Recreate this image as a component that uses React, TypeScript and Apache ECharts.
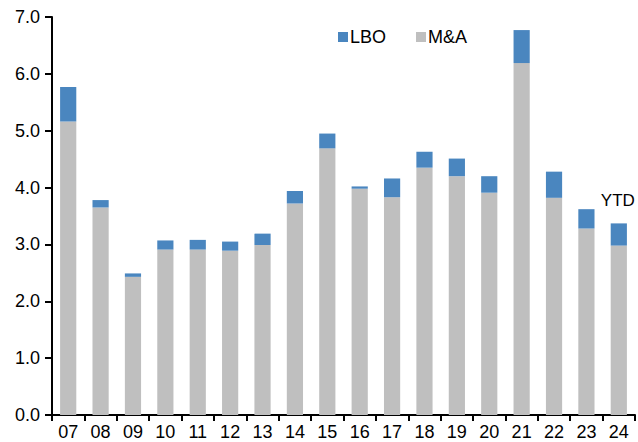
import React, { useEffect, useRef } from "react";
import * as echarts from "echarts";

const categories = ["07", "08", "09", "10", "11", "12", "13", "14", "15", "16", "17", "18", "19", "20", "21", "22", "23", "24"];
const maValues = [5.16, 3.65, 2.43, 2.91, 2.91, 2.89, 2.99, 3.72, 4.69, 3.98, 3.83, 4.35, 4.2, 3.91, 6.19, 3.82, 3.28, 2.98];
const lboValues = [0.61, 0.13, 0.06, 0.16, 0.17, 0.16, 0.2, 0.22, 0.26, 0.04, 0.33, 0.28, 0.31, 0.29, 0.58, 0.46, 0.34, 0.39];
const yTicks = { min: 0, max: 7, interval: 1 };
const annotation = "YTD";

const FONT = '"Liberation Sans", Arial, sans-serif';

export default function App() {
  const ref = useRef<HTMLDivElement>(null);
  useEffect(() => {
    if (!ref.current) return;
    const chart = echarts.init(ref.current, undefined, { renderer: "svg" });
    chart.setOption({
      animation: false,
      textStyle: { fontFamily: FONT },
      grid: { left: 52, right: 3, top: 17, bottom: 27, containLabel: false },
      legend: {
        data: ["LBO", "M&A"],
        top: 23,
        left: 333,
        itemWidth: 10,
        itemHeight: 10,
        itemGap: 30,
        icon: "rect",
        textStyle: { fontFamily: FONT, fontSize: 18, color: "#000", padding: [0, 0, 0, -3] },
      },
      xAxis: {
        type: "category",
        data: categories,
        axisLine: { lineStyle: { color: "#000", width: 2 } },
        axisTick: { show: true, length: 6, lineStyle: { color: "#000", width: 2 } },
        axisLabel: { color: "#000", fontSize: 18, fontFamily: FONT, margin: 8 },
      },
      yAxis: {
        type: "value",
        min: yTicks.min,
        max: yTicks.max,
        interval: yTicks.interval,
        axisLine: { show: true, lineStyle: { color: "#000", width: 2 } },
        axisTick: { show: true, length: 7, lineStyle: { color: "#000", width: 2 } },
        splitLine: { show: false },
        axisLabel: {
          color: "#000",
          fontSize: 18,
          fontFamily: FONT,
          margin: 12,
          formatter: (v: number) => v.toFixed(1),
        },
      },
      series: [
        {
          name: "M&A",
          type: "bar",
          stack: "total",
          barWidth: "50%",
          data: maValues,
          itemStyle: { color: "#BFBFBF" },
        },
        {
          name: "LBO",
          type: "bar",
          stack: "total",
          barWidth: "50%",
          data: lboValues.map((v, i) =>
            i === lboValues.length - 1
              ? {
                  value: v,
                  label: {
                    show: true,
                    position: "top",
                    formatter: annotation,
                    color: "#000",
                    fontSize: 17,
                    fontFamily: FONT,
                    offset: [-1, -9],
                  },
                }
              : v
          ),
          itemStyle: { color: "#4A86BF" },
        },
      ],
    });
    return () => chart.dispose();
  }, []);
  return <div ref={ref} style={{ width: 638, height: 442, position: "absolute", left: 0, top: 0 }} />;
}
